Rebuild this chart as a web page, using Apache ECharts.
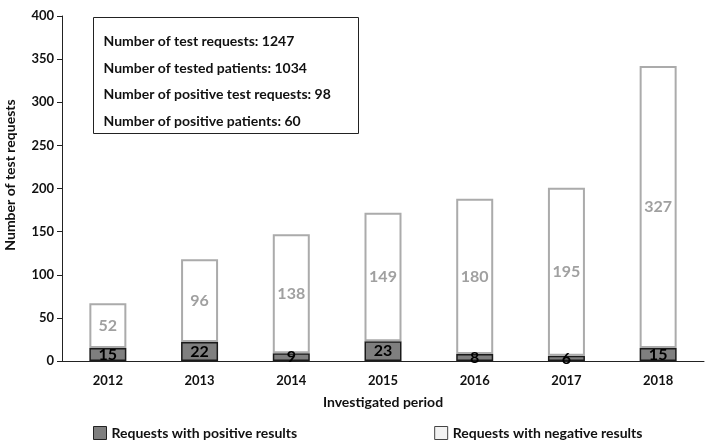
<!DOCTYPE html>
<html><head><meta charset="utf-8">
<script src="https://cdn.jsdelivr.net/npm/echarts@6/dist/echarts.min.js"></script>
<style>html,body{margin:0;padding:0;background:#fff}#c{width:709px;height:442px}</style>
</head><body><div id="c"></div>
<script>
const categories = ['2012','2013','2014','2015','2016','2017','2018'];
const positive = [15, 22, 9, 23, 8, 6, 15];
const negative = [52, 96, 138, 149, 180, 195, 327];
const yTicks = {min: 0, max: 400, interval: 50};
const yTitle = 'Number of test requests';
const summaryLines = [
  'Number of test requests: 1247',
  'Number of tested patients: 1034',
  'Number of positive test requests: 98',
  'Number of positive patients: 60'
];
const F = 'Lato, "Open Sans", sans-serif';
const chart = echarts.init(document.getElementById('c'));
chart.setOption({
  animation: false,
  textStyle: {fontFamily: F},
  grid: {left: 62, right: 5, top: 16, bottom: 81},
  legend: {
    left: 88, top: 421, itemGap: 137, itemWidth: 13, itemHeight: 13,
    textStyle: {fontFamily: F, fontWeight: 'bold', fontSize: 14, color: '#111'},
    data: [
      {name: 'Requests with positive results', icon: 'rect', itemStyle: {color: '#7f7f7f', borderColor: '#222', borderWidth: 1}},
      {name: 'Requests with negative results', icon: 'rect', itemStyle: {color: '#f2f2f2', borderColor: '#444', borderWidth: 1}}
    ]
  },
  xAxis: {
    type: 'category', data: categories,
    name: 'Investigated period', nameLocation: 'middle', nameGap: 34,
    nameTextStyle: {fontFamily: F, fontWeight: 'bold', fontSize: 14, color: '#111'},
    axisLine: {lineStyle: {color: '#222', width: 1}},
    axisTick: {show: false},
    axisLabel: {fontFamily: F, fontWeight: 'bold', fontSize: 13, color: '#111', margin: 13}
  },
  yAxis: {
    type: 'value', min: yTicks.min, max: yTicks.max, interval: yTicks.interval,
    axisLine: {show: true, lineStyle: {color: '#222', width: 1}},
    axisTick: {show: true, length: 5, lineStyle: {color: '#222'}},
    splitLine: {show: false},
    axisLabel: {fontFamily: F, fontWeight: 'bold', fontSize: 13, color: '#111', margin: 8}
  },
  series: [
    {
      name: 'Requests with positive results', type: 'bar', stack: 's', data: positive,
      barWidth: 37,
      itemStyle: {color: '#7f7f7f', borderColor: '#1a1a1a', borderWidth: 1.5},
      label: {show: true, position: 'inside', color: '#000', fontFamily: F, fontWeight: 'bold', fontSize: 16}
    },
    {
      name: 'Requests with negative results', type: 'bar', stack: 's', data: negative,
      barWidth: 37,
      itemStyle: {color: '#ffffff', borderColor: '#ababab', borderWidth: 2},
      label: {show: true, position: 'inside', color: '#a0a0a0', fontFamily: F, fontWeight: 'bold', fontSize: 16}
    }
  ],
  graphic: [
    {
      type: 'text', x: 10, y: 175, rotation: Math.PI / 2,
      style: {text: yTitle, fill: '#111', font: 'bold 14px ' + F, textAlign: 'center', textVerticalAlign: 'middle'}
    },
    {
      type: 'group', left: 93, top: 17,
      children: [
        {type: 'rect', shape: {x: 0, y: 0, width: 265, height: 116}, style: {fill: '#fff', stroke: '#222', lineWidth: 1}},
        ...summaryLines.map((t, i) => ({
          type: 'text', x: 10, y: 24 + i * 26.5,
          style: {text: t, fill: '#111', font: 'bold 14px ' + F, textVerticalAlign: 'middle'}
        }))
      ]
    }
  ]
});
</script></body></html>
